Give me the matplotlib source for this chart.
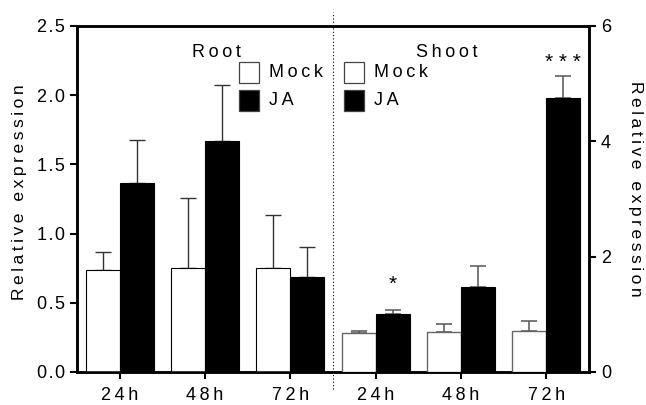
import matplotlib
matplotlib.use("Agg")
import matplotlib.pyplot as plt
import numpy as np
from matplotlib.patches import Rectangle

plt.rcParams['font.family'] = ['Liberation Sans', 'DejaVu Sans']

# Data
timepoints = ["24h", "48h", "72h"]
root_mock = [0.74, 0.755, 0.75]
root_mock_err = [0.13, 0.505, 0.385]
root_ja = [1.363, 1.671, 0.69]
root_ja_err = [0.313, 0.405, 0.214]
shoot_mock = [0.68, 0.69, 0.71]
shoot_mock_err = [0.035, 0.14, 0.17]
shoot_ja = [1.0, 1.47, 4.76]
shoot_ja_err = [0.07, 0.37, 0.37]
shoot_marks = ["*", "", "***"]

SP = "\u2009"
HS = "\u200a"


def spaced(s, sep=SP):
    return sep.join(list(s))


fig = plt.figure(figsize=(6.46, 4.05), dpi=100)
ax = fig.add_axes([77 / 646, 1 - 372 / 405, 512 / 646, 346 / 405])
ax2 = ax.twinx()

w = 0.4
x_root = np.arange(3)
x_shoot = np.arange(3) + 3
fs = 13

# Root bars (left axis)
ax.bar(x_root - w / 2, root_mock, width=w, color="white", edgecolor="black", linewidth=0.8, zorder=3)
ax.bar(x_root + w / 2, root_ja, width=w, color="black", edgecolor="black", linewidth=0.8, zorder=3)
ax.errorbar(x_root - w / 2, root_mock, yerr=[np.zeros(3), root_mock_err], fmt="none",
            ecolor="#333333", elinewidth=1, capsize=6, capthick=1, zorder=2)
ax.errorbar(x_root + w / 2, root_ja, yerr=[np.zeros(3), root_ja_err], fmt="none",
            ecolor="#333333", elinewidth=1, capsize=6, capthick=1, zorder=2)

# Shoot bars (right axis)
ax2.bar(x_shoot - w / 2, shoot_mock, width=w, color="white", edgecolor="#666666", linewidth=1.0, zorder=3)
ax2.bar(x_shoot + w / 2, shoot_ja, width=w, color="black", edgecolor="black", linewidth=0.8, zorder=3)
ax2.errorbar(x_shoot - w / 2, shoot_mock, yerr=[np.zeros(3), shoot_mock_err], fmt="none",
             ecolor="#555555", elinewidth=1.1, capsize=6, capthick=1.1, zorder=2)
ax2.errorbar(x_shoot + w / 2, shoot_ja, yerr=[np.zeros(3), shoot_ja_err], fmt="none",
             ecolor="#555555", elinewidth=1.1, capsize=6, capthick=1.1, zorder=2)

# Significance marks
mark_offsets = [12, 0, 3]
for xi, v, e, m, off in zip(x_shoot, shoot_ja, shoot_ja_err, shoot_marks, mark_offsets):
    if m:
        ax2.annotate(spaced(m, " "), (xi + w / 2, v + e), xytext=(0, off), textcoords="offset points",
                     ha="center", va="bottom", fontsize=15, color="black")

ax.set_xlim(-0.5, 5.5)
ax.set_ylim(0, 2.5)
ax2.set_ylim(0, 6)

ax.set_xticks(np.arange(6))
ax.set_xticklabels([spaced(t) for t in timepoints * 2], fontsize=fs)
ax.set_yticks(np.arange(0, 2.51, 0.5))
ax.set_yticklabels([spaced(f"{v:.1f}", HS) for v in np.arange(0, 2.51, 0.5)], fontsize=fs)
ax2.set_yticks([0, 2, 4, 6])
ax2.set_yticklabels(["0", "2", "4", "6"], fontsize=fs)

for a in (ax, ax2):
    for s in a.spines.values():
        s.set_linewidth(1.8)
    a.tick_params(width=1.5, length=5, direction="out")
ax.tick_params(axis="x", pad=6)

ax.set_ylabel(spaced("Relative expression"), fontsize=12.6)
ax2.set_ylabel(spaced("Relative expression"), fontsize=12.6, rotation=270)
ax.yaxis.set_label_coords(-0.113, 0.52)
ax2.yaxis.set_label_coords(1.09, 0.53)
ax.yaxis.label.set_va("center")
ax2.yaxis.label.set_va("center")

# Divider between tissues
ax.plot([2.5, 2.5], [-0.12, 2.6], color="black", linestyle=(0, (1, 2)), linewidth=0.8,
        clip_on=False, zorder=1)

# Panel titles
ax.text(0.273, 0.923, spaced("Root"), transform=ax.transAxes, ha="center", va="center", fontsize=fs)
ax.text(0.723, 0.923, spaced("Shoot"), transform=ax.transAxes, ha="center", va="center", fontsize=fs)

# Legends
def draw_legend(x0):
    sq_w = 20 / 512
    sq_h = 21 / 346
    for i, (lab, fc) in enumerate([("Mock", "white"), ("JA", "black")]):
        y_top = 0.896 - i * (28.5 / 346)
        ax.add_patch(Rectangle((x0, y_top - sq_h), sq_w, sq_h, transform=ax.transAxes,
                               facecolor=fc, edgecolor="#444444", linewidth=0.9, clip_on=False, zorder=5))
        ax.text(x0 + sq_w + 10 / 512, y_top - sq_h / 2, spaced(lab), transform=ax.transAxes,
                ha="left", va="center", fontsize=fs, zorder=5)


draw_legend((239 - 77) / 512)
draw_legend((344 - 77) / 512)

fig.savefig("out.png", dpi=100)
